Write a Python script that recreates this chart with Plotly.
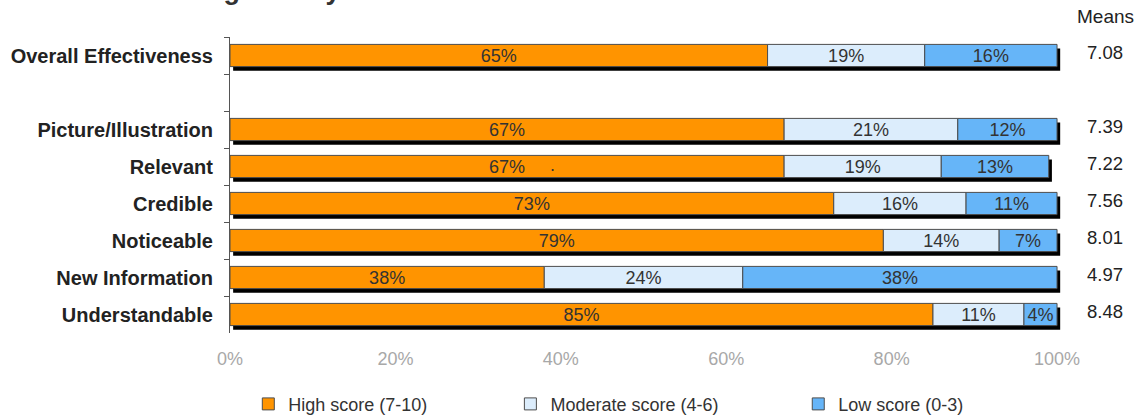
import plotly.graph_objects as go

# Rows from top to bottom; the blank entry leaves a gap below the overall score
categories = ["Overall Effectiveness", " ", "Picture/Illustration", "Relevant",
              "Credible", "Noticeable", "New Information", "Understandable"]
rows = ["Overall Effectiveness", "Picture/Illustration", "Relevant",
        "Credible", "Noticeable", "New Information", "Understandable"]
high = [65, 67, 67, 73, 79, 38, 85]
moderate = [19, 21, 19, 16, 14, 24, 11]
low = [16, 12, 13, 11, 7, 38, 4]
means = [7.08, 7.39, 7.22, 7.56, 8.01, 4.97, 8.48]
series_names = ["High score (7-10)", "Moderate score (4-6)", "Low score (0-3)"]
x_ticks = [0, 20, 40, 60, 80, 100]

colors = ["#FF9400", "#DCEDFC", "#66B5F8"]
outline = "#4d4d4d"
font_family = "Liberation Sans, Arial, sans-serif"
bar_width = 0.6

fig = go.Figure()

# Drop shadow behind each full bar
totals = [h + m + l for h, m, l in zip(high, moderate, low)]
fig.add_trace(go.Bar(
    y=rows, x=totals, base=0.38, orientation="h",
    width=bar_width, offset=-bar_width / 2 + 0.11,
    marker=dict(color="#000000", line=dict(width=0)),
    showlegend=False, hoverinfo="skip",
))

bases = [
    [0] * len(rows),
    high,
    [h + m for h, m in zip(high, moderate)],
]
for name, vals, base, col, leg in zip(series_names, [high, moderate, low], bases,
                                      colors, ["legend", "legend2", "legend3"]):
    fig.add_trace(go.Bar(
        y=rows, x=vals, base=base, orientation="h", name=name,
        width=bar_width, offset=-bar_width / 2,
        marker=dict(color=col, line=dict(color=outline, width=1)),
        text=[f"{v}%" for v in vals], textposition="inside",
        insidetextanchor="middle", constraintext="none",
        textfont=dict(family=font_family, size=18, color="#333333"),
        legend=leg,
    ))

annotations = [
    dict(text="<b>Ratings of key attributes</b>", xref="paper", yref="paper",
         x=-0.091, y=1.103, xanchor="left", yanchor="bottom", showarrow=False,
         font=dict(family=font_family, size=27, color="#333333")),
    dict(text="Means", xref="paper", yref="paper", x=1.052, y=1.068,
         xanchor="center", yanchor="middle", showarrow=False,
         font=dict(family=font_family, size=19, color="#222222")),
    dict(text=".", xref="x", yref="y", x=39, y="Relevant", yshift=2,
         showarrow=False, font=dict(family=font_family, size=18, color="#333333")),
]
for r, m in zip(rows, means):
    annotations.append(dict(
        text=f"{m:.2f}", xref="paper", yref="y", x=1.052, y=r, yshift=3,
        xanchor="center", yanchor="middle", showarrow=False,
        font=dict(family=font_family, size=18.5, color="#222222")))

legend_style = dict(orientation="h", xanchor="left", yanchor="middle",
                    yref="container", y=0.033, bgcolor="rgba(0,0,0,0)",
                    font=dict(family=font_family, size=18, color="#333333"),
                    itemwidth=30)

fig.update_layout(
    width=1144, height=418,
    margin=dict(l=230, r=82, t=37, b=85),
    barmode="overlay",
    plot_bgcolor="white", paper_bgcolor="white",
    font=dict(family=font_family, color="#222222"),
    annotations=annotations,
    legend=dict(legend_style, x=0.022),
    legend2=dict(legend_style, x=0.337),
    legend3=dict(legend_style, x=0.683),
    xaxis=dict(range=[0, 100.6], tickvals=x_ticks,
               ticktext=[f"{v}%" for v in x_ticks],
               showgrid=False, zeroline=False, showline=False, ticks="",
               ticklabelstandoff=13,
               tickfont=dict(family=font_family, size=18, color="#a8a8a8")),
    yaxis=dict(categoryorder="array", categoryarray=categories,
               range=[7.5, -0.5], type="category",
               showline=True, linecolor="#555555", linewidth=1,
               ticks="outside", ticklen=5, tickcolor="#555555",
               tickson="boundaries", showgrid=False, zeroline=False,
               ticklabelstandoff=12,
               tickfont=dict(family=font_family, size=20, color="#222222",
                             weight="bold")),
)

fig.write_html("out.html")
